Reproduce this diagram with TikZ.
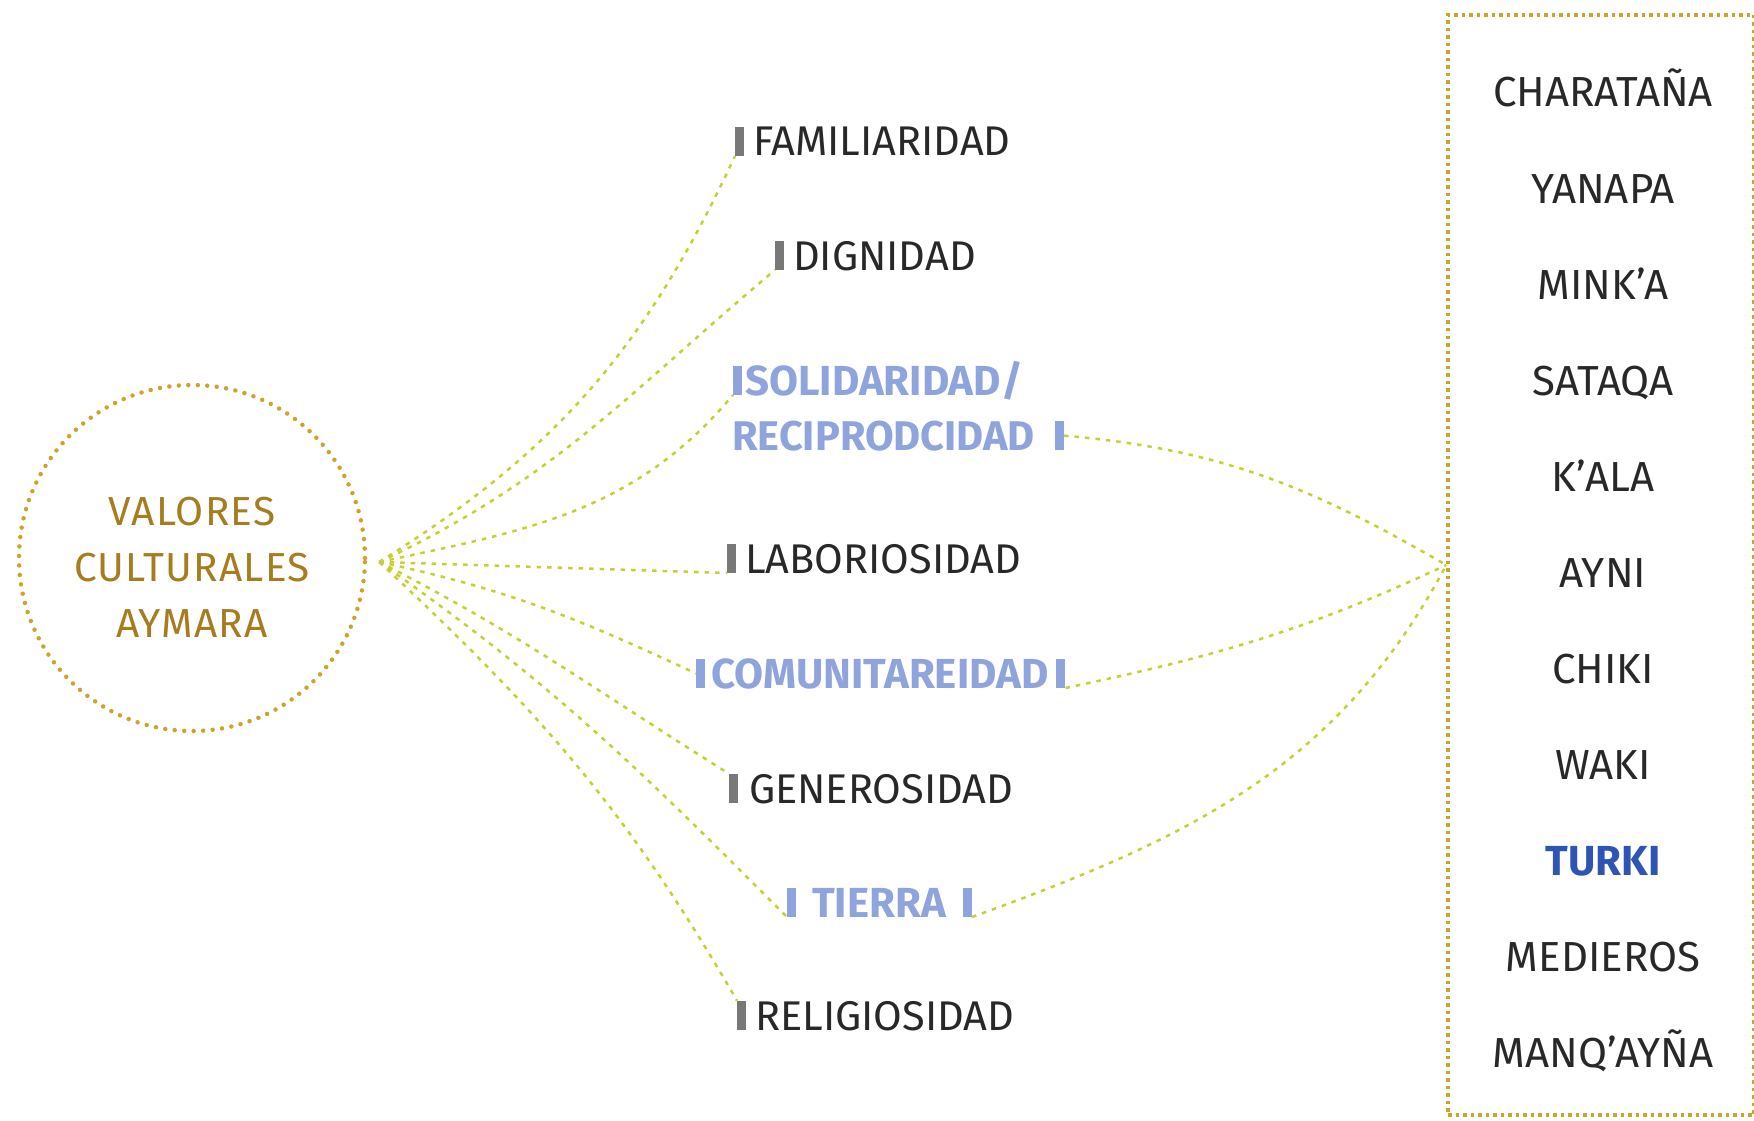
\documentclass[tikz,border=0pt]{standalone}
\usepackage{fontspec}
\setmainfont{Fira Sans}
\usepackage{xcolor}
\usepackage{tikz}
\usetikzlibrary{positioning}

\definecolor{oro}{RGB}{166,124,30}
\definecolor{punto}{RGB}{204,164,44}
\definecolor{enlace}{RGB}{198,208,52}
\definecolor{celeste}{RGB}{143,164,220}
\definecolor{azul}{RGB}{46,84,180}
\definecolor{gris}{RGB}{120,120,120}
\definecolor{tinta}{RGB}{40,40,40}

\newcommand{\barmark}[1]{\textcolor{#1}{\rule{9pt}{29pt}}}

\begin{document}
\begin{tikzpicture}[x=1pt, y=-1pt]
    \tikzset{
        hub/.style={circle, draw=punto, line width=4.5pt, dash pattern=on 0pt off 9.5pt, line cap=round, minimum size=346pt, align=center, text=oro, font=\fontsize{40.5}{56}\selectfont\addfontfeatures{LetterSpace=3}},
        valor/.style={anchor=base west, inner sep=0pt, text=tinta, font=\fontsize{41.5}{48}\selectfont},
        valorazul/.style={valor, text=celeste, font=\fontsize{42}{48}\selectfont\bfseries},
        termino/.style={anchor=base, inner sep=0pt, text=tinta, font=\fontsize{42}{48}\selectfont},
        marco/.style={rectangle, draw=punto, line width=3.5pt, dash pattern=on 3.5pt off 4pt, minimum width=306pt, minimum height=1100pt},
        link/.style={draw=enlace, line width=2.5pt, dash pattern=on 4.5pt off 6pt}
    }
    \useasboundingbox (0,0) rectangle (1754,1121);

    \node (Valores) [hub] at (192,558) {\rule{0pt}{47pt}VALORES\\CULTURALES\\AYMARA};
    \coordinate (Foco) at ([xshift=12pt, yshift=-4pt]Valores.east);

    \node (Familiaridad) [valor] at (735,156) {\barmark{gris}\hspace{9pt}FAMILIARIDAD};
    \node (Dignidad) [valor] at (775,270) {\barmark{gris}\hspace{9pt}DIGNIDAD};
    \node (Solidaridad) [valorazul] at (733,395) {\barmark{celeste}\hspace{3pt}SOLIDARIDAD/};
    \node (Reciprocidad) [valorazul, font=\fontsize{41.5}{48}\selectfont\bfseries] at (732,450) {RECIPRODCIDAD\hspace{20pt}\barmark{celeste}};
    \node (Laboriosidad) [valor] at (727,573) {\barmark{gris}\hspace{9pt}LABORIOSIDAD};
    \node (Comunitareidad) [valorazul] at (696,688) {\barmark{celeste}\hspace{6pt}COMUNITAREIDAD\hspace{8pt}\barmark{celeste}};
    \node (Generosidad) [valor] at (729,803) {\barmark{gris}\hspace{11pt}GENEROSIDAD};
    \node (Tierra) [valorazul] at (787,917) {\barmark{celeste}\hspace{16pt}TIERRA\hspace{17pt}\barmark{celeste}};
    \node (Religiosidad) [valor] at (737,1030) {\barmark{gris}\hspace{9pt}RELIGIOSIDAD};

    \node (Lista) [marco] at (1601,565) {};
    \node (Charatana) [termino] at (1603,107) {CHARATAÑA};
    \node (Yanapa) [termino, below=96pt of Charatana.base, anchor=base] {YANAPA};
    \node (Minka) [termino, below=96pt of Yanapa.base, anchor=base] {MINK’A};
    \node (Sataqa) [termino, below=96pt of Minka.base, anchor=base] {SATAQA};
    \node (Kala) [termino, below=96pt of Sataqa.base, anchor=base] {K’ALA};
    \node (Ayni) [termino, below=96pt of Kala.base, anchor=base] {AYNI};
    \node (Chiki) [termino, below=96pt of Ayni.base, anchor=base] {CHIKI};
    \node (Waki) [termino, below=96pt of Chiki.base, anchor=base] {WAKI};
    \node (Turki) [termino, below=96pt of Waki.base, anchor=base, text=azul, font=\fontsize{42}{48}\selectfont\bfseries] {TURKI};
    \node (Medieros) [termino, below=96pt of Turki.base, anchor=base] {MEDIEROS};
    \node (Manqayna) [termino, below=96pt of Medieros.base, anchor=base] {MANQ’AYÑA};

    % fan from the circle
    \path [link] (Foco) to[out=32, in=-115] (Familiaridad.base west);
    \path [link] (Foco) to[out=25, in=-140] (Dignidad.base west);
    \path [link] (Foco) to[out=12, in=-130] (Solidaridad.base west);
    \path [link] (Foco) -- (Laboriosidad.base west);
    \path [link] (Foco) to[out=-12, in=155] (Comunitareidad.west);
    \path [link] (Foco) to[out=-27, in=148] (Generosidad.north west);
    \path [link] (Foco) to[out=-35, in=135] (Tierra.base west);
    \path [link] (Foco) to[out=-43, in=120] (Religiosidad.north west);

    % links into the box
    \path [link] (Reciprocidad.east) to[out=-5, in=150] (Lista.west);
    \path [link] (Comunitareidad.base east) to[out=12, in=-155] (Lista.west);
    \path [link] (Tierra.base east) to[out=20, in=-118] (Lista.west);

\end{tikzpicture}
\end{document}
